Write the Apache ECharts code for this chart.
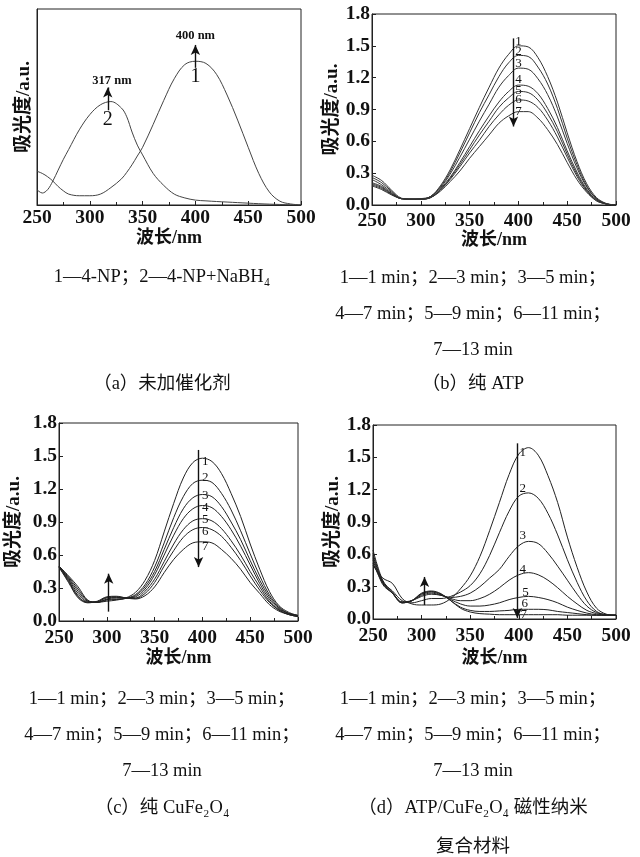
<!DOCTYPE html>
<html>
<head>
<meta charset="utf-8">
<title>UV-vis spectra</title>
<script src="https://cdn.jsdelivr.net/npm/echarts@6/dist/echarts.min.js"></script>
<style>html,body{margin:0;padding:0;background:#fff;}</style>
</head>
<body>
<div id="main" style="width:640px;height:857px;"></div>
<script type="text/javascript">
// wavelength grids (nm)
var wlA = [250,255,260,265,270,275,280,290,300,310,320,330,335,340,345,350,360,370,380,390,400,410,420,430,440,450,460,470,480,490,500];
var wl = [250,260,270,280,290,300,310,320,330,340,350,360,370,380,390,400,410,420,430,440,450,460,470,480,490,500];

// (a) no catalyst
var npOnly = [0.31,0.29,0.26,0.22,0.17,0.13,0.10,0.085,0.085,0.10,0.16,0.24,0.30,0.37,0.45,0.53,0.74,0.96,1.16,1.29,1.32,1.30,1.20,1.01,0.78,0.53,0.29,0.12,0.035,0.01,0.0];
var npBH4 = [0.14,0.11,0.14,0.22,0.32,0.42,0.51,0.69,0.83,0.92,0.95,0.89,0.81,0.67,0.55,0.46,0.29,0.18,0.10,0.065,0.045,0.038,0.032,0.027,0.022,0.017,0.012,0.008,0.005,0.002,0.0];

// (b) pure ATP, curves 1..7
var atp1 = [0.28,0.23,0.14,0.065,0.055,0.06,0.08,0.18,0.33,0.52,0.72,0.92,1.11,1.29,1.42,1.50,1.49,1.39,1.21,0.97,0.68,0.41,0.20,0.07,0.015,0.0];
var atp2 = [0.26,0.21,0.13,0.06,0.055,0.055,0.08,0.17,0.31,0.49,0.68,0.87,1.04,1.21,1.34,1.41,1.40,1.30,1.14,0.91,0.63,0.38,0.18,0.06,0.01,0.0];
var atp3 = [0.24,0.19,0.12,0.06,0.055,0.055,0.08,0.16,0.29,0.45,0.62,0.79,0.95,1.11,1.22,1.29,1.28,1.19,1.04,0.83,0.58,0.35,0.17,0.06,0.01,0.0];
var atp4 = [0.21,0.175,0.11,0.06,0.055,0.055,0.07,0.15,0.26,0.40,0.55,0.70,0.84,0.97,1.07,1.13,1.12,1.05,0.91,0.73,0.51,0.31,0.15,0.05,0.01,0.0];
var atp5 = [0.20,0.165,0.105,0.06,0.055,0.055,0.07,0.14,0.25,0.38,0.52,0.66,0.79,0.92,1.01,1.07,1.06,0.99,0.86,0.69,0.48,0.29,0.14,0.05,0.01,0.0];
var atp6 = [0.19,0.155,0.10,0.06,0.055,0.055,0.07,0.14,0.24,0.36,0.49,0.61,0.74,0.85,0.94,0.99,0.98,0.92,0.80,0.64,0.45,0.27,0.13,0.04,0.01,0.0];
var atp7 = [0.18,0.145,0.095,0.06,0.055,0.055,0.07,0.13,0.22,0.32,0.44,0.55,0.66,0.77,0.84,0.88,0.88,0.82,0.71,0.57,0.40,0.24,0.12,0.04,0.01,0.0];

// (c) pure CuFe2O4
var cfo1 = [0.50,0.41,0.31,0.19,0.17,0.18,0.19,0.21,0.26,0.37,0.55,0.81,1.07,1.30,1.44,1.48,1.45,1.34,1.16,0.95,0.70,0.47,0.27,0.14,0.08,0.05];
var cfo2 = [0.50,0.40,0.29,0.185,0.17,0.19,0.195,0.205,0.24,0.33,0.49,0.71,0.94,1.13,1.25,1.28,1.26,1.16,1.01,0.82,0.61,0.41,0.24,0.13,0.07,0.05];
var cfo3 = [0.50,0.39,0.27,0.18,0.17,0.195,0.20,0.205,0.23,0.31,0.45,0.65,0.85,1.02,1.12,1.15,1.13,1.04,0.90,0.74,0.55,0.37,0.22,0.12,0.07,0.05];
var cfo4 = [0.50,0.38,0.25,0.175,0.17,0.20,0.21,0.21,0.22,0.29,0.42,0.60,0.78,0.93,1.02,1.05,1.03,0.95,0.83,0.68,0.51,0.34,0.20,0.11,0.07,0.05];
var cfo5 = [0.495,0.37,0.23,0.17,0.175,0.21,0.215,0.21,0.21,0.27,0.38,0.54,0.70,0.83,0.91,0.93,0.91,0.84,0.73,0.60,0.45,0.31,0.18,0.10,0.06,0.04];
var cfo6 = [0.49,0.36,0.22,0.17,0.175,0.215,0.22,0.21,0.205,0.25,0.35,0.50,0.64,0.76,0.83,0.85,0.83,0.77,0.67,0.55,0.41,0.28,0.17,0.10,0.06,0.04];
var cfo7 = [0.49,0.35,0.21,0.165,0.18,0.22,0.225,0.21,0.20,0.23,0.31,0.44,0.56,0.65,0.71,0.72,0.71,0.65,0.57,0.47,0.35,0.25,0.15,0.09,0.06,0.04];

// (d) ATP/CuFe2O4 composite
var comp1 = [0.50,0.38,0.33,0.19,0.14,0.13,0.13,0.14,0.19,0.28,0.40,0.58,0.82,1.08,1.34,1.53,1.59,1.52,1.33,1.08,0.76,0.48,0.25,0.10,0.045,0.035];
var comp2 = [0.52,0.34,0.26,0.17,0.15,0.17,0.19,0.19,0.21,0.25,0.31,0.42,0.59,0.80,1.00,1.14,1.17,1.12,0.98,0.78,0.55,0.34,0.17,0.07,0.04,0.035];
var comp3 = [0.55,0.32,0.24,0.16,0.17,0.21,0.23,0.22,0.20,0.21,0.24,0.30,0.38,0.46,0.58,0.68,0.72,0.70,0.61,0.49,0.36,0.23,0.12,0.06,0.04,0.035];
var comp4 = [0.57,0.33,0.24,0.155,0.17,0.22,0.24,0.22,0.19,0.17,0.17,0.19,0.23,0.29,0.36,0.41,0.43,0.41,0.36,0.29,0.21,0.14,0.08,0.05,0.035,0.035];
var comp5 = [0.59,0.34,0.24,0.15,0.17,0.23,0.25,0.225,0.18,0.14,0.12,0.12,0.13,0.15,0.18,0.20,0.21,0.20,0.18,0.15,0.11,0.08,0.055,0.04,0.035,0.035];
var comp6 = [0.61,0.35,0.24,0.15,0.17,0.235,0.255,0.23,0.17,0.11,0.08,0.07,0.07,0.075,0.08,0.09,0.09,0.09,0.085,0.07,0.06,0.05,0.04,0.035,0.035,0.035];
var comp7 = [0.64,0.36,0.25,0.15,0.17,0.24,0.26,0.235,0.17,0.10,0.065,0.05,0.045,0.04,0.04,0.04,0.04,0.04,0.04,0.04,0.035,0.035,0.035,0.035,0.035,0.035];

// curve numbers and where they sit (x nm, y a.u.)
var curveNums = ['1','2','3','4','5','6','7'];
var atpLabelY = [1.54,1.445,1.335,1.18,1.08,0.99,0.88];
var cfoLabelY = [1.45,1.30,1.14,1.03,0.92,0.81,0.68];
var compLabelY = [1.54,1.21,0.77,0.46,0.245,0.14,0.04];
var compLabelX = [404,404,404,404,407,406,405];

var yTicks = ['0.0','0.3','0.6','0.9','1.2','1.5','1.8'];

var captionsLeftTop = ['1—4-NP；2—4-NP+NaBH₄'];
var captionsTime = ['1—1 min；2—3 min；3—5 min；', '4—7 min；5—9 min；6—11 min；', '7—13 min'];

var serif = '"Liberation Serif", "Noto Sans CJK SC", serif';
var myChart = echarts.init(document.getElementById('main'), null, {renderer: 'canvas'});

var grids = [
    {left: 37, top: 9, width: 264, height: 196},
    {left: 372, top: 14, width: 244, height: 191},
    {left: 59, top: 423, width: 239, height: 198},
    {left: 373, top: 425, width: 243, height: 194}
];
var xNameGap = [24, 25, 28, 30];
var xLabelMargin = [3, 6, 7, 7];
var yNameGap = [3, 30, 35, 29];

var grid = [], xAxis = [], yAxis = [], series = [];

grids.forEach(function (g, i) {
    grid.push({
        left: g.left, top: g.top, width: g.width, height: g.height,
        show: true, borderColor: '#222', borderWidth: 1,
        containLabel: false, outerBoundsMode: 'none'
    });
    xAxis.push({
        gridIndex: i, type: 'value', min: 250, max: 500, interval: 50,
        name: '波长/nm', nameLocation: 'middle', nameGap: xNameGap[i],
        nameTextStyle: {fontFamily: serif, fontWeight: 'bold', fontSize: 18, color: '#111'},
        axisLine: {show: true, onZero: false, lineStyle: {color: '#222', width: 1}},
        axisTick: {show: true, inside: true, length: 4, lineStyle: {color: '#222'}},
        minorTick: {show: true, splitNumber: 2, length: 3, lineStyle: {color: '#222'}},
        axisLabel: {fontFamily: serif, fontWeight: 'bold', fontSize: 19.5, color: '#111', margin: xLabelMargin[i]},
        splitLine: {show: false}
    });
    yAxis.push({
        gridIndex: i, type: 'value', min: 0, max: 1.8, interval: 0.3,
        name: '吸光度/a.u.', nameLocation: 'middle', nameGap: yNameGap[i],
        nameTextStyle: {fontFamily: serif, fontWeight: 'bold', fontSize: 19, color: '#111'},
        axisLine: {show: true, onZero: false, lineStyle: {color: '#222', width: 1}},
        axisTick: {show: i > 0, inside: true, length: 4, lineStyle: {color: '#222'}},
        axisLabel: {
            show: i > 0, fontFamily: serif, fontWeight: 'bold', fontSize: 19.5, color: '#111', margin: 2,
            formatter: function (v) { return yTicks[Math.round(v / 0.3)]; }
        },
        splitLine: {show: false}
    });
});

function addLine(panel, xs, ys, color) {
    series.push({
        type: 'line', xAxisIndex: panel, yAxisIndex: panel,
        data: xs.map(function (x, k) { return [x, ys[k]]; }),
        showSymbol: false, smooth: 0.35, silent: true,
        lineStyle: {width: 1, color: color}
    });
    return series[series.length - 1];
}

function arrow(x, y0, y1) {
    return [{coord: [x, y0], symbol: 'none'}, {coord: [x, y1], symbol: 'arrow'}];
}

function addArrows(s, list) {
    s.markLine = {
        silent: true, animation: false,
        symbol: ['none', 'arrow'], symbolSize: [7, 10],
        lineStyle: {color: '#111', width: 1.4, type: 'solid'},
        label: {show: false},
        data: list
    };
}

var sa = addLine(0, wlA, npOnly, '#444');
addLine(0, wlA, npBH4, '#444');
addArrows(sa, [arrow(400, 1.26, 1.47), arrow(317, 0.87, 1.08)]);

var sb = addLine(1, wl, atp1, '#333');
[atp2, atp3, atp4, atp5, atp6, atp7].forEach(function (d) { addLine(1, wl, d, '#333'); });
addArrows(sb, [arrow(395, 1.57, 0.74)]);

var sc = addLine(2, wl, cfo1, '#222');
[cfo2, cfo3, cfo4, cfo5, cfo6, cfo7].forEach(function (d) { addLine(2, wl, d, '#222'); });
addArrows(sc, [arrow(396, 1.555, 0.49), arrow(302, 0.085, 0.43)]);

var sd = addLine(3, wl, comp1, '#222');
[comp2, comp3, comp4, comp5, comp6, comp7].forEach(function (d) { addLine(3, wl, d, '#222'); });
addArrows(sd, [arrow(398.5, 1.63, 0.01), arrow(303, 0.13, 0.39)]);

var option = {
    animation: false,
    backgroundColor: '#fff',
    grid: grid,
    xAxis: xAxis,
    yAxis: yAxis,
    series: series
};
myChart.setOption(option);

// text marks placed in data coordinates
function txt(panel, x, y, s, size, weight) {
    var p = myChart.convertToPixel({xAxisIndex: panel, yAxisIndex: panel}, [x, y]);
    return {
        type: 'text', x: p[0], y: p[1], silent: true,
        style: {
            text: s, fill: '#111', align: 'center', verticalAlign: 'middle',
            font: (weight || 'normal') + ' ' + size + 'px ' + serif
        }
    };
}
function cap(x, y, s) {
    return {
        type: 'text', x: x, y: y, silent: true,
        style: {text: s, fill: '#111', align: 'center', verticalAlign: 'middle', font: '18.5px ' + serif}
    };
}

var g = [];
g.push(txt(0, 400, 1.552, '400 nm', 12.5, 'bold'));
g.push(txt(0, 400, 1.175, '1', 20));
g.push(txt(0, 321, 1.138, '317 nm', 12.5, 'bold'));
g.push(txt(0, 317, 0.78, '2', 20));
curveNums.forEach(function (n, k) {
    g.push(txt(1, 400, atpLabelY[k], n, 13));
    g.push(txt(2, 403, cfoLabelY[k], n, 13));
    g.push(txt(3, compLabelX[k], compLabelY[k], n, 13));
});

g.push(cap(162, 277, captionsLeftTop[0]));
g.push(cap(162, 384, '（a）未加催化剂'));
var rowsTop = [278, 314, 350];
var rowsBot = [699, 735, 771];
captionsTime.forEach(function (t, k) {
    g.push(cap(473, rowsTop[k], t));
    g.push(cap(162, rowsBot[k], t));
    g.push(cap(473, rowsBot[k], t));
});
g.push(cap(473, 384, '（b）纯 ATP'));
g.push(cap(162, 808, '（c）纯 CuFe₂O₄'));
g.push(cap(473, 808, '（d）ATP/CuFe₂O₄ 磁性纳米'));
g.push(cap(473, 847, '复合材料'));

myChart.setOption({graphic: g});
</script>
</body>
</html>
